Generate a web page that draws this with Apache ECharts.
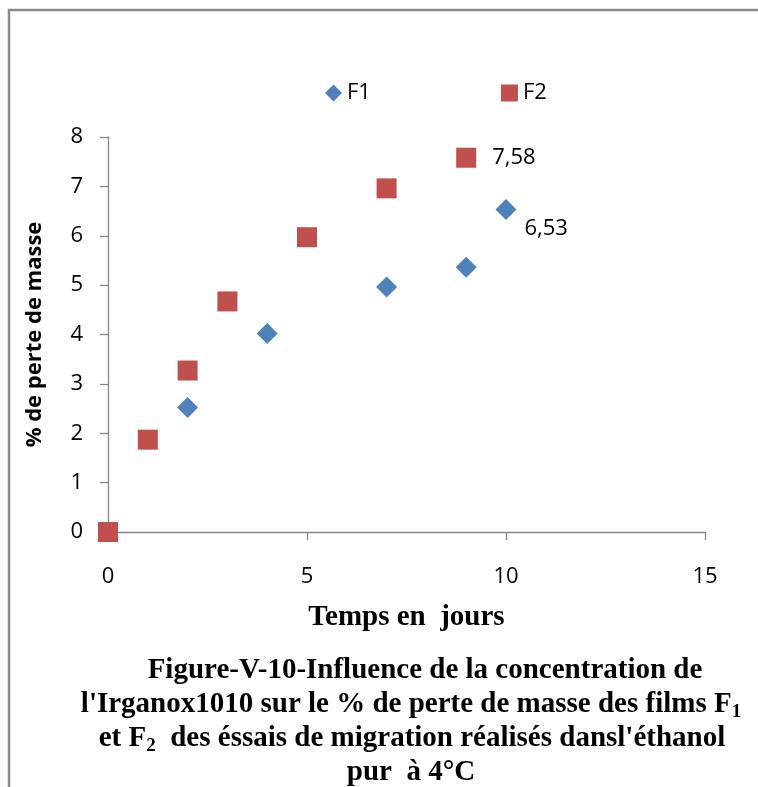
<!DOCTYPE html>
<html>
<head>
<meta charset="utf-8">
<script src="https://cdn.jsdelivr.net/npm/echarts@6/dist/echarts.min.js"></script>
<style>
html,body{margin:0;padding:0;background:#fff;}
#chart{width:758px;height:787px;}
</style>
</head>
<body>
<div id="chart"></div>
<script>
// ---- data ----
const f1Days = [2, 4, 7, 9, 10];
const f1Loss = [2.52, 4.02, 4.96, 5.36, 6.53];
const f2Days = [0, 1, 2, 3, 5, 7, 9];
const f2Loss = [0, 1.87, 3.27, 4.67, 5.97, 6.96, 7.58];
const seriesNames = ['F1', 'F2'];
const xAxisTitle = 'Temps en  jours';
const yAxisTitle = '% de perte de masse';
const captionLines = [
  '{m|Figure-V-10-Influence de la concentration de}',
  "{m|l'Irganox1010 sur le % de perte de masse des films F}{s|1}",
  "{m|et F}{s|2}{m|  des éssais de migration réalisés dansl'éthanol}",
  '{m|pur  à 4°C}'
];

const SANS = '"Open Sans", "Liberation Sans", sans-serif';
const SERIF = '"Liberation Serif", "Times New Roman", serif';
const BLUE = '#4F81BD';
const RED = '#C0504D';
const AXIS = '#868686';

function pts(xs, ys, labelIdx) {
  return xs.map((x, i) => {
    const d = { value: [x, ys[i]] };
    if (i === labelIdx) d.label = { show: true };
    return d;
  });
}

const chart = echarts.init(document.getElementById('chart'), null, { renderer: 'canvas' });

const captionCenters = [425, 411, 412, 411];
const captionMid = [671, 705, 739, 773];
const richStyle = {
  m: { fontFamily: SERIF, fontWeight: 'bold', fontSize: 29, lineHeight: 34, fill: '#000' },
  s: { fontFamily: SERIF, fontWeight: 'bold', fontSize: 19, lineHeight: 14, verticalAlign: 'bottom', fill: '#000' }
};

const option = {
  backgroundColor: '#fff',
  animation: false,
  grid: { left: 108, right: 53, top: 137, bottom: 255, containLabel: false },
  legend: {
    data: [
      { name: seriesNames[0], icon: 'diamond' },
      { name: seriesNames[1], icon: 'rect' }
    ],
    left: 320, top: 77,
    itemWidth: 17, itemHeight: 17, itemGap: 130,
    textStyle: { fontFamily: SANS, fontSize: 22, color: '#000' }
  },
  xAxis: {
    type: 'value', min: 0, max: 15, interval: 5,
    name: xAxisTitle, nameLocation: 'middle', nameGap: 71,
    nameTextStyle: { fontFamily: SERIF, fontWeight: 'bold', fontSize: 29, color: '#000' },
    axisLine: { show: true, onZero: false, lineStyle: { color: AXIS, width: 1.3 } },
    axisTick: { show: true, length: 8, inside: false, lineStyle: { color: AXIS, width: 1.3 } },
    axisLabel: { fontFamily: SANS, fontSize: 22, color: '#000', margin: 34 },
    splitLine: { show: false }
  },
  yAxis: {
    type: 'value', min: 0, max: 8, interval: 1,
    name: yAxisTitle, nameLocation: 'middle', nameGap: 62, nameRotate: 90,
    nameTextStyle: { fontFamily: SANS, fontWeight: 'bold', fontSize: 22, color: '#000' },
    axisLine: { show: true, lineStyle: { color: AXIS, width: 1.3 } },
    axisTick: { show: true, length: 8, inside: false, lineStyle: { color: AXIS, width: 1.3 } },
    axisLabel: { fontFamily: SANS, fontSize: 22, color: '#000', margin: 25 },
    splitLine: { show: false }
  },
  series: [
    {
      name: seriesNames[0], type: 'scatter', symbol: 'diamond', symbolSize: 21,
      itemStyle: { color: BLUE, opacity: 1 },
      label: { show: false, position: 'right', distance: 8, offset: [0, 19],
        fontFamily: SANS, fontSize: 22, color: '#000',
        formatter: p => String(p.value[1]).replace('.', ',') },
      data: pts(f1Days, f1Loss, f1Days.length - 1), z: 2
    },
    {
      name: seriesNames[1], type: 'scatter', symbol: 'rect', symbolSize: 20,
      itemStyle: { color: RED, opacity: 1 },
      label: { show: false, position: 'right', distance: 16,
        fontFamily: SANS, fontSize: 22, color: '#000',
        formatter: p => String(p.value[1]).replace('.', ',') },
      data: pts(f2Days, f2Loss, f2Days.length - 1), z: 3
    }
  ],
  graphic: [
    {
      type: 'rect', silent: true, z: -1,
      shape: { x: 9, y: 10, width: 800, height: 820 },
      style: { fill: 'none', stroke: '#8A8A8A', lineWidth: 2.5 }
    }
  ].concat(captionLines.map((t, i) => ({
    type: 'text', silent: true,
    style: {
      x: captionCenters[i], y: captionMid[i], text: t,
      align: 'center', verticalAlign: 'middle', rich: richStyle
    }
  })))
};

chart.setOption(option);
</script>
</body>
</html>
